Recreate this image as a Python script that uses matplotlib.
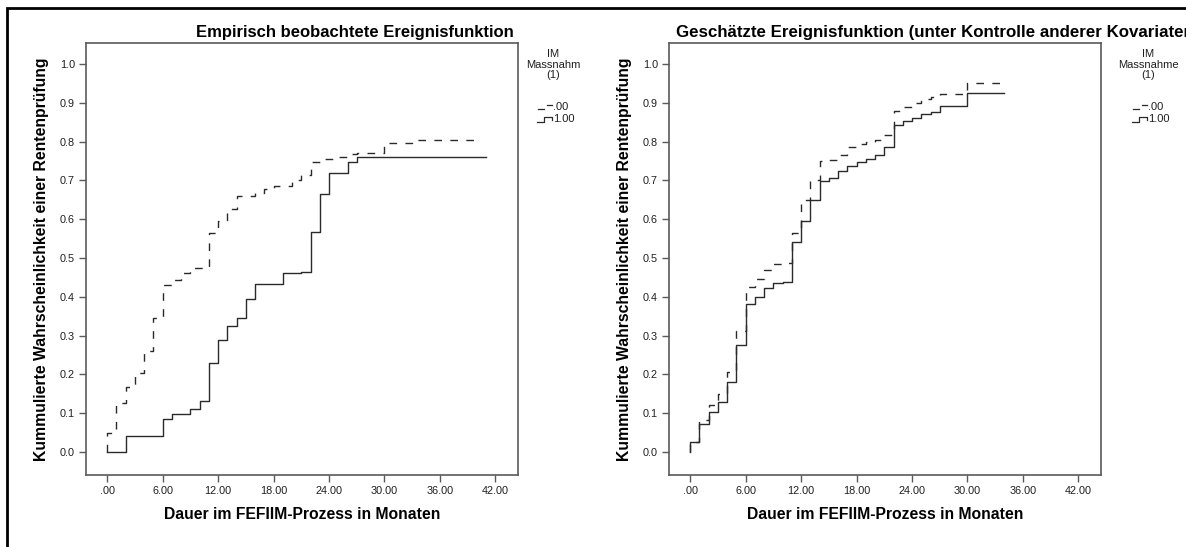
import matplotlib
matplotlib.use("Agg")
import matplotlib.pyplot as plt
from matplotlib.lines import Line2D
from matplotlib.patches import Rectangle

plt.rcParams['font.family'] = ['Liberation Sans', 'DejaVu Sans']

# --- data (months, cumulative probability) ---
# left panel: empirically observed
emp_t_00 = [0, 0, 1, 2, 3, 4, 5, 6, 7, 8, 9, 11, 12, 13, 14, 16, 17, 18, 20, 21, 22, 23, 25, 26, 27, 30, 33, 40]
emp_p_00 = [0.0, 0.049, 0.126, 0.168, 0.203, 0.259, 0.345, 0.430, 0.443, 0.460, 0.473, 0.565, 0.595, 0.627,
            0.660, 0.668, 0.677, 0.686, 0.700, 0.714, 0.748, 0.754, 0.761, 0.768, 0.771, 0.796, 0.803, 0.803]
emp_t_10 = [0, 2, 6, 7, 9, 10, 11, 12, 13, 14, 15, 16, 19, 21, 22, 23, 24, 26, 27, 41]
emp_p_10 = [0.0, 0.042, 0.084, 0.098, 0.110, 0.132, 0.229, 0.289, 0.325, 0.345, 0.394, 0.433, 0.461, 0.465,
            0.568, 0.666, 0.718, 0.747, 0.761, 0.761]

# right panel: estimated (controlled for other covariates)
est_t_00 = [0, 0, 1, 2, 3, 4, 5, 6, 7, 8, 9, 10, 11, 12, 13, 14, 15, 16, 17, 18, 19, 20, 21, 22, 23, 24, 25,
            26, 27, 30, 34]
est_p_00 = [0.0, 0.025, 0.082, 0.121, 0.149, 0.207, 0.312, 0.424, 0.446, 0.469, 0.484, 0.486, 0.565, 0.650,
            0.700, 0.750, 0.752, 0.765, 0.787, 0.794, 0.800, 0.805, 0.817, 0.880, 0.890, 0.899, 0.909, 0.915,
            0.923, 0.950, 0.950]
est_t_10 = [0, 0, 1, 2, 3, 4, 5, 6, 7, 8, 9, 10, 11, 12, 13, 14, 15, 16, 17, 18, 19, 20, 21, 22, 23, 24, 25,
            26, 27, 30, 34]
est_p_10 = [0.0, 0.025, 0.071, 0.104, 0.130, 0.181, 0.276, 0.381, 0.400, 0.422, 0.436, 0.439, 0.540, 0.595,
            0.649, 0.698, 0.705, 0.725, 0.737, 0.748, 0.755, 0.765, 0.785, 0.843, 0.853, 0.862, 0.871, 0.877,
            0.892, 0.924, 0.924]

x_ticks = [0, 6, 12, 18, 24, 30, 36, 42]
x_ticklabels = ['.00', '6.00', '12.00', '18.00', '24.00', '30.00', '36.00', '42.00']
y_ticks = [0.0, 0.1, 0.2, 0.3, 0.4, 0.5, 0.6, 0.7, 0.8, 0.9, 1.0]
y_ticklabels = ['0.0', '0.1', '0.2', '0.3', '0.4', '0.5', '0.6', '0.7', '0.8', '0.9', '1.0']
legend_labels = ['.00', '1.00']

W, H = 1186, 547
fig = plt.figure(figsize=(W / 100, H / 100), dpi=100)
fig.patch.set_facecolor('white')


def px(x, y):
    # pixel (from top-left) -> figure fraction
    return x / W, 1 - y / H


LINE_C = '#2a2a2a'
SPINE_C = '#5a5a5a'


def make_panel(left_px, t00, p00, t10, p10):
    ax = fig.add_axes([left_px / W, (H - 475) / H, 432 / W, 432 / H])
    ax.step(t00, p00, where='post', color=LINE_C, lw=1.0, dashes=(5.5, 6))
    ax.step(t10, p10, where='post', color=LINE_C, lw=1.0)
    ax.set_xlim(-2.3, 44.45)
    ax.set_ylim(-0.0593, 1.054)
    ax.set_xticks(x_ticks)
    ax.set_xticklabels(x_ticklabels)
    ax.set_yticks(y_ticks)
    ax.set_yticklabels(y_ticklabels)
    ax.tick_params(direction='out', length=5, width=1.0, color=SPINE_C,
                   labelsize=7.8, labelcolor='#202020', pad=3)
    for s in ax.spines.values():
        s.set_color(SPINE_C)
        s.set_linewidth(1.2)
    ax.set_xlabel('Dauer im FEFIIM-Prozess in Monaten', fontsize=11.3,
                  fontweight='bold', labelpad=8)
    ax.set_ylabel('Kummulierte Wahrscheinlichkeit einer Rentenprüfung',
                  fontsize=11.3, fontweight='bold', labelpad=8)
    return ax


ax1 = make_panel(86, emp_t_00, emp_p_00, emp_t_10, emp_p_10)
ax2 = make_panel(669, est_t_00, est_p_00, est_t_10, est_p_10)

# titles (the right one runs past the picture edge, as in the original)
fig.text(*px(514, 33), 'Empirisch beobachtete Ereignisfunktion', ha='right', va='center',
         fontsize=12, fontweight='bold')
fig.text(*px(676, 33), 'Geschätzte Ereignisfunktion (unter Kontrolle anderer Kovariaten)',
         ha='left', va='center', fontsize=12.2, fontweight='bold')


def legend(cx, name):
    for i, line in enumerate(['IM', name, '(1)']):
        fig.text(*px(cx, 54 + 10.5 * i), line, ha='center', va='center', fontsize=8, color='#202020')
    x0 = cx - 15
    # dashed sample
    fig.add_artist(Line2D([x0 / W, (x0 + 6) / W], [1 - 109 / H] * 2, color=LINE_C, lw=0.9))
    fig.add_artist(Line2D([(x0 + 9) / W, (x0 + 14) / W], [1 - 105 / H] * 2, color=LINE_C, lw=0.9))
    fig.text(*px(x0 + 15, 107), legend_labels[0], ha='left', va='center', fontsize=8, color='#202020')
    # solid sample
    xs = [x0 - 1, x0 + 6, x0 + 6, x0 + 14, x0 + 14]
    ys = [122, 122, 117, 117, 120]
    fig.add_artist(Line2D([x / W for x in xs], [1 - y / H for y in ys], color=LINE_C, lw=0.9))
    fig.text(*px(x0 + 15, 119.5), legend_labels[1], ha='left', va='center', fontsize=8, color='#202020')


legend(553, 'Massnahm')
legend(1148, 'Massnahme')

# outer frame (only left and top edges visible)
fig.add_artist(Rectangle(px(7, 600), 1300 / W, 592 / H, fill=False, edgecolor='black',
                         lw=2.0, transform=fig.transFigure))

fig.savefig('out.png', dpi=100)
